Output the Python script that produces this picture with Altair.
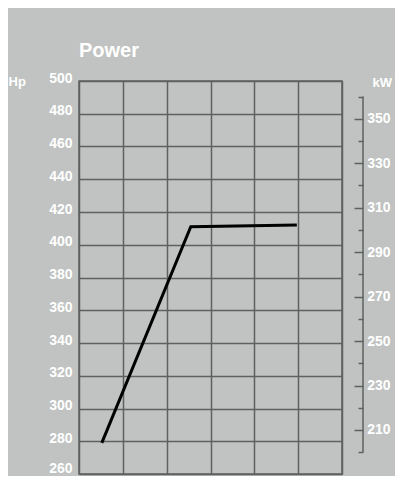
import altair as alt
import pandas as pd

# data
x_pos = [0.52, 2.55, 4.97]          # position along the (unlabelled) x grid, in grid cells
hp_vals = [279, 411, 412]
hp_ticks = list(range(260, 501, 20))
kw_major = list(range(210, 351, 20))
kw_minor = list(range(200, 361, 20))
kw_span = [200, 360]

BG = "#c0c3c1"
GRID = "#5e615f"
FONT = "Liberation Sans"

df = pd.DataFrame({"x": x_pos, "hp": hp_vals})
span_df = pd.DataFrame({"lo": [kw_span[0]], "hi": [kw_span[1]]})

xscale = alt.Scale(domain=[0, 6], nice=False, zero=False)
xaxis = alt.Axis(values=list(range(0, 7)), labels=False, ticks=False, domain=False,
                 grid=True, gridColor=GRID, gridWidth=1.5, gridOpacity=1, title=None)

line = alt.Chart(df).mark_line(color="black", strokeWidth=3).encode(
    x=alt.X("x:Q", scale=xscale, axis=xaxis),
    y=alt.Y("hp:Q", scale=alt.Scale(domain=[260, 500], nice=False, zero=False),
            axis=alt.Axis(orient="left", values=hp_ticks, ticks=False, domain=False,
                          grid=True, gridColor=GRID, gridWidth=1.5, gridOpacity=1,
                          labelColor="white", labelFont=FONT, labelFontSize=14,
                          labelFontWeight="bold", labelPadding=7,
                          labelOffset={"condition": {"test": "datum.value === 260", "value": -6},
                                       "value": -3},
                          title="Hp", titleAngle=0, titleAlign="left", titleBaseline="middle",
                          titleX=-71, titleY=0, titleColor="white", titleFont=FONT,
                          titleFontSize=13, titleFontWeight="bold")),
)

kwscale = alt.Scale(domain=[190.2, 367.0], nice=False, zero=False)

kw_major_layer = alt.Chart(span_df).mark_rule(color=GRID, strokeWidth=1.5).encode(
    x=alt.value(284),
    y=alt.Y("lo:Q", scale=kwscale,
            axis=alt.Axis(orient="left", offset=-284, values=kw_major, domain=False,
                          tickColor=GRID, tickSize=9, tickWidth=1.5,
                          labelColor="white", labelFont=FONT, labelFontSize=14,
                          labelFontWeight="bold", labelPadding=-36, labelAlign="right",
                          grid=False,
                          title="kW", titleAngle=0, titleAlign="left", titleBaseline="middle",
                          titleX=9, titleY=1, titleColor="white", titleFont=FONT,
                          titleFontSize=13, titleFontWeight="bold")),
    y2="hi:Q",
)

kw_minor_layer = alt.Chart(span_df).mark_rule(opacity=0).encode(
    x=alt.value(284),
    y=alt.Y("lo:Q", scale=kwscale,
            axis=alt.Axis(orient="left", offset=-284, values=kw_minor, domain=False,
                          tickColor=GRID, tickSize=5, tickWidth=1.5, labels=False,
                          grid=False, title=None)),
    y2="hi:Q",
)

chart = alt.layer(line, kw_major_layer, kw_minor_layer).resolve_scale(
    y="independent"
).properties(
    width=263, height=393,
    title=alt.TitleParams("Power", anchor="start", frame="group", color="white", font=FONT,
                          fontSize=20, fontWeight="bold", offset=10),
    padding={"left": 71, "top": 73, "right": 53, "bottom": 2},
    autosize=alt.AutoSizeParams(type="none"),
    background=BG,
).configure_view(stroke=GRID, strokeWidth=1.5)

chart.save("out.html", embed_options={"renderer": "svg", "actions": False})
